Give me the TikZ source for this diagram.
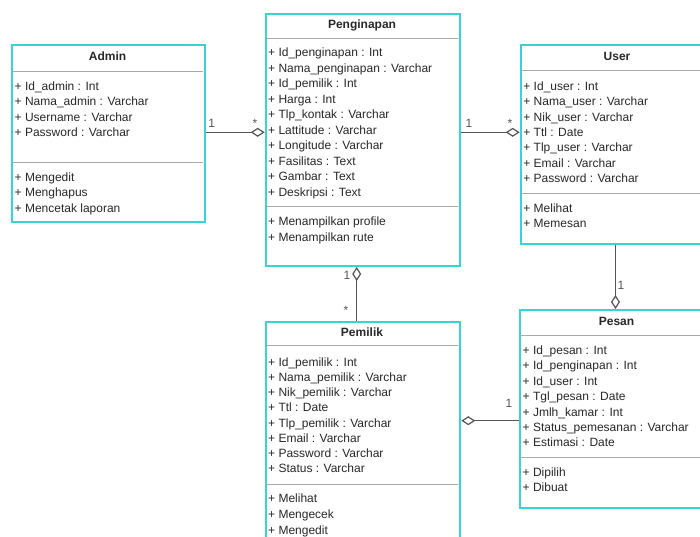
\documentclass[tikz,border=0pt]{standalone}
\usepackage{fontspec}
\setmainfont{Liberation Sans}
\usetikzlibrary{arrows.meta}
\definecolor{turq}{RGB}{56,212,212}
\definecolor{sepgray}{RGB}{170,170,170}
\definecolor{linegray}{RGB}{85,85,85}
\definecolor{txt}{RGB}{40,40,40}
\begin{document}
\begin{tikzpicture}[x=1pt,y=-1pt,
  classbox/.style={draw=turq, line width=2pt, fill=white, inner sep=0pt, anchor=north west},
  title/.style={font=\fontsize{12}{14}\selectfont\bfseries, text=txt, inner sep=0pt, anchor=base},
  item/.style={font=\fontsize{12}{14}\selectfont, text=txt, inner sep=0pt, anchor=base west},
  sepline/.style={draw=sepgray, line width=1pt},
  conn/.style={draw=linegray, line width=1.2pt},
  agg/.style={conn, {Diamond[open,length=14pt,width=9pt]}-},
  mult/.style={font=\fontsize{12}{14}\selectfont, text=linegray, inner sep=0pt, anchor=base}]
\useasboundingbox (0,0) rectangle (700,536);
\clip (0,0) rectangle (700,536);
\fill[white] (0,0) rectangle (700,536);

% ---------- boxes ----------
\node[classbox, minimum width=193pt, minimum height=177pt] (admin) at (11,44) {};
\node[classbox, minimum width=194.6pt, minimum height=252.3pt] (penginapan) at (264.7,12.7) {};
\node[classbox, minimum width=195pt, minimum height=198.4pt] (user) at (519.7,44.3) {};
\node[classbox, minimum width=194.6pt, minimum height=260pt] (pemilik) at (264.7,320.7) {};
\node[classbox, minimum width=195pt, minimum height=197.7pt] (pesan) at (519,309) {};

% ---------- separators ----------
\draw[sepline] (12,71) -- (203,71);
\draw[sepline] (12,162) -- (203,162);
\draw[sepline] (265.7,38.3) -- (458.3,38.3);
\draw[sepline] (265.7,206.7) -- (458.3,206.7);
\draw[sepline] (520.7,70.7) -- (713,70.7);
\draw[sepline] (520.7,193.3) -- (713,193.3);
\draw[sepline] (265.7,345.7) -- (458.3,345.7);
\draw[sepline] (265.7,484) -- (458.3,484);
\draw[sepline] (520,335.3) -- (713,335.3);
\draw[sepline] (520,457.7) -- (713,457.7);

% ---------- titles ----------
\node[title] (admin-t) at (107.5,60.3) {Admin};
\node[title] (penginapan-t) at (362,28.3) {Penginapan};
\node[title] (user-t) at (617,60.3) {User};
\node[title] (pemilik-t) at (362,336.5) {Pemilik};
\node[title] (pesan-t) at (616.5,325.3) {Pesan};

% ---------- Admin ----------
\foreach \t [count=\i from 0] in {{+ Id\_admin : Int},{+ Nama\_admin : Varchar},{+ Username : Varchar},{+ Password : Varchar}}
  \node[item] (admin-a\i) at (14.5,90.3+15.5*\i) {\t};
\foreach \t [count=\i from 0] in {{+ Mengedit},{+ Menghapus},{+ Mencetak laporan}}
  \node[item] (admin-m\i) at (14.5,181.2+15.5*\i) {\t};

% ---------- Penginapan ----------
\foreach \t [count=\i from 0] in {{+ Id\_penginapan : Int},{+ Nama\_penginapan : Varchar},{+ Id\_pemilik : Int},{+ Harga : Int},{+ Tlp\_kontak : Varchar},{+ Lattitude : Varchar},{+ Longitude : Varchar},{+ Fasilitas : Text},{+ Gambar : Text},{+ Deskripsi : Text}}
  \node[item] (penginapan-a\i) at (268,56.5+15.5*\i) {\t};
\foreach \t [count=\i from 0] in {{+ Menampilkan profile},{+ Menampilkan rute}}
  \node[item] (penginapan-m\i) at (268,225.3+15.7*\i) {\t};

% ---------- User ----------
\foreach \t [count=\i from 0] in {{+ Id\_user : Int},{+ Nama\_user : Varchar},{+ Nik\_user : Varchar},{+ Ttl : Date},{+ Tlp\_user : Varchar},{+ Email : Varchar},{+ Password : Varchar}}
  \node[item] (user-a\i) at (523.2,90.3+15.4*\i) {\t};
\foreach \t [count=\i from 0] in {{+ Melihat},{+ Memesan}}
  \node[item] (user-m\i) at (523.2,212.2+15.6*\i) {\t};

% ---------- Pemilik ----------
\foreach \t [count=\i from 0] in {{+ Id\_pemilik : Int},{+ Nama\_pemilik : Varchar},{+ Nik\_pemilik : Varchar},{+ Ttl : Date},{+ Tlp\_pemilik : Varchar},{+ Email : Varchar},{+ Password : Varchar},{+ Status : Varchar}}
  \node[item] (pemilik-a\i) at (268,366.2+15.25*\i) {\t};
\foreach \t [count=\i from 0] in {{+ Melihat},{+ Mengecek},{+ Mengedit}}
  \node[item] (pemilik-m\i) at (268,502.8+15.85*\i) {\t};

% ---------- Pesan ----------
\foreach \t [count=\i from 0] in {{+ Id\_pesan : Int},{+ Id\_penginapan : Int},{+ Id\_user : Int},{+ Tgl\_pesan : Date},{+ Jmlh\_kamar : Int},{+ Status\_pemesanan : Varchar},{+ Estimasi : Date}}
  \node[item] (pesan-a\i) at (522.5,354.5+15.4*\i) {\t};
\foreach \t [count=\i from 0] in {{+ Dipilih},{+ Dibuat}}
  \node[item] (pesan-m\i) at (522.5,476.2+15.6*\i) {\t};

% ---------- connectors ----------
\coordinate (ya) at (0,132.3);
\coordinate (xp) at (356.7,0);
\coordinate (xu) at (615.5,0);
\coordinate (yp) at (0,420.7);
\draw[agg] (penginapan.west |- ya) -- (admin.east |- ya);
\draw[agg] (user.west |- ya) -- (penginapan.east |- ya);
\draw[agg] (penginapan.south -| xp) -- (pemilik.north -| xp);
\draw[agg] (pesan.north -| xu) -- (user.south -| xu);
\draw[agg] (pemilik.east |- yp) -- (pesan.west |- yp);

% ---------- multiplicities ----------
\node[mult] (m1) at (211.7,127.3) {1};
\node[mult] (m2) at (255,127) {*};
\node[mult] (m3) at (469,127.3) {1};
\node[mult] (m4) at (510,127) {*};
\node[mult] (m5) at (347,279.6) {1};
\node[mult] (m6) at (346,314) {*};
\node[mult] (m7) at (621,289.6) {1};
\node[mult] (m8) at (509,407.3) {1};
\end{tikzpicture}
\end{document}
